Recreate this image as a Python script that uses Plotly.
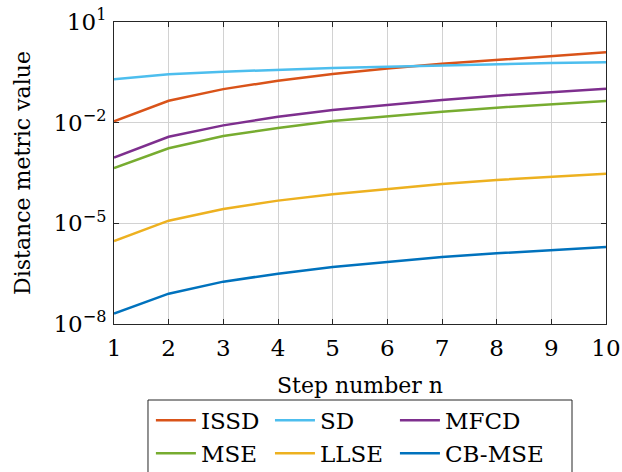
import plotly.graph_objects as go

steps = [1, 2, 3, 4, 5, 6, 7, 8, 9, 10]
issd = [0.011, 0.045, 0.10, 0.178, 0.28, 0.41, 0.57, 0.75, 0.99, 1.25]
sd = [0.196, 0.276, 0.33, 0.38, 0.425, 0.467, 0.51, 0.56, 0.60, 0.63]
mfcd = [9.1e-4, 3.8e-3, 8.3e-3, 0.0151, 0.0239, 0.0344, 0.0474, 0.0637, 0.082, 0.103]
mse = [4.4e-4, 1.72e-3, 4.0e-3, 6.95e-3, 0.0112, 0.0158, 0.0213, 0.028, 0.036, 0.044]
llse = [2.98e-6, 1.2e-5, 2.68e-5, 4.75e-5, 7.3e-5, 1.06e-4, 1.49e-4, 1.96e-4, 2.46e-4, 3.0e-4]
cbmse = [2.04e-8, 8.0e-8, 1.83e-7, 3.16e-7, 5.0e-7, 7.2e-7, 9.9e-7, 1.28e-6, 1.6e-6, 1.97e-6]

# (name, values, colour, legend column)
series = [
    ("ISSD", issd, "#D95319", "legend"),
    ("SD", sd, "#4DBEEE", "legend2"),
    ("MFCD", mfcd, "#7E2F8E", "legend3"),
    ("MSE", mse, "#77AC30", "legend"),
    ("LLSE", llse, "#EDB120", "legend2"),
    ("CB-MSE", cbmse, "#0072BD", "legend3"),
]

ytick_vals = [1e-8, 1e-5, 1e-2, 1e1]
ytick_text = ["10<sup>−8</sup>", "10<sup>−5</sup>", "10<sup>−2</sup>", "10<sup>1</sup>"]

FONT = "DejaVu Serif"
TICK_SIZE = 23
TITLE_SIZE = 22
LEG_SIZE = 23

fig = go.Figure()
for name, vals, color, leg in series:
    fig.add_trace(go.Scatter(x=steps, y=vals, mode="lines", name=name, legend=leg,
                             line=dict(color=color, width=2.5)))

axis_common = dict(showline=True, linecolor="#262626", linewidth=1, mirror="ticks",
                   ticks="inside", ticklen=5, tickcolor="#262626",
                   showgrid=True, gridcolor="#d2d2d2", gridwidth=1, zeroline=False,
                   tickfont=dict(family=FONT, size=TICK_SIZE, color="#000"))

fig.update_xaxes(range=[1, 10], tickvals=steps, ticklabelstandoff=3,
                 title=dict(text="Step number n",
                            font=dict(family=FONT, size=TITLE_SIZE, color="#000"), standoff=18),
                 **axis_common)
fig.update_yaxes(type="log", range=[-8, 1], tickvals=ytick_vals, ticktext=ytick_text,
                 ticklabelstandoff=2,
                 title=dict(text="Distance metric value",
                            font=dict(family=FONT, size=TITLE_SIZE, color="#000"), standoff=16),
                 **axis_common)

leg_common = dict(orientation="v", yanchor="top", xanchor="left", y=-0.248,
                  bgcolor="rgba(0,0,0,0)", borderwidth=0, tracegroupgap=0,
                  itemwidth=40, font=dict(family=FONT, size=LEG_SIZE, color="#000"))

fig.update_layout(
    width=622, height=472,
    margin=dict(l=114, r=16, t=22, b=148, autoexpand=False),
    plot_bgcolor="white", paper_bgcolor="white",
    font=dict(family=FONT, size=TICK_SIZE, color="#000"),
    showlegend=True,
    legend=dict(x=0.075, **leg_common),
    legend2=dict(x=0.317, **leg_common),
    legend3=dict(x=0.571, **leg_common),
    shapes=[dict(type="rect", xref="paper", yref="paper", x0=0.0691, x1=0.9309,
                 y0=-0.2517, y1=-0.53, line=dict(color="#262626", width=1),
                 fillcolor="rgba(0,0,0,0)")],
)

fig.write_html("out.html")
